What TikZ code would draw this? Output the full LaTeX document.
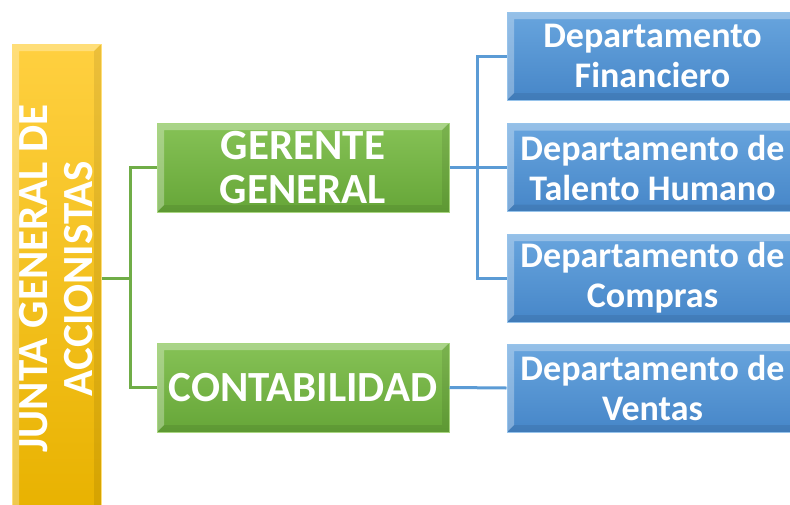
\documentclass[tikz,border=0pt]{standalone}
\usepackage{fontspec}
\setmainfont{Carlito}
\definecolor{amarilloA}{RGB}{255,208,64}
\definecolor{amarilloB}{RGB}{232,178,0}
\definecolor{amarilloL}{RGB}{255,222,120}
\definecolor{verdeA}{RGB}{134,194,86}
\definecolor{verdeB}{RGB}{102,166,56}
\definecolor{verdeL}{RGB}{168,214,128}
\definecolor{verdeC}{RGB}{112,173,71}
\definecolor{azulA}{RGB}{104,165,222}
\definecolor{azulB}{RGB}{70,134,200}
\definecolor{azulL}{RGB}{150,195,235}
\definecolor{azulC}{RGB}{91,155,213}
\tikzset{
    bisel/.style={path picture={
        \coordinate (nw) at (path picture bounding box.north west);
        \coordinate (ne) at (path picture bounding box.north east);
        \coordinate (sw) at (path picture bounding box.south west);
        \coordinate (se) at (path picture bounding box.south east);
        \fill[white,opacity=.3] (nw) -- (ne) -- ([shift={(-7pt,-7pt)}]ne)
            -- ([shift={(7pt,-7pt)}]nw) -- ([shift={(7pt,7pt)}]sw) -- (sw) -- cycle;
        \fill[black,opacity=.08] (se) -- (ne) -- ([shift={(-7pt,-7pt)}]ne)
            -- ([shift={(-7pt,7pt)}]se) -- ([shift={(7pt,7pt)}]sw) -- (sw) -- cycle;
    }},
    caja/.style={draw, line width=1pt, inner sep=0pt, align=center, text=white, bisel},
    junta/.style={caja, draw=amarilloL, top color=amarilloA, bottom color=amarilloB,
        minimum width=89pt, minimum height=469pt},
    gerencia/.style={caja, draw=verdeL, top color=verdeA, bottom color=verdeB,
        minimum width=292pt, minimum height=89pt,
        font=\bfseries\fontsize{43}{44}\selectfont},
    depto/.style={caja, draw=azulL, top color=azulA, bottom color=azulB,
        minimum width=291pt, minimum height=88pt,
        font=\bfseries\fontsize{36}{40}\selectfont},
    lineaverde/.style={draw=verdeC, line width=3pt},
    lineaazul/.style={draw=azulC, line width=3pt}
}
\begin{document}
\begin{tikzpicture}[x=1pt,y=-1pt]
    \useasboundingbox (0,0) rectangle (790,504);
    \node[junta] (junta) at (56.5,278.5) {};
    \node[rotate=90, align=center, text=white, font=\bfseries\fontsize{43}{45}\selectfont]
        (juntatexto) at (junta.center) {JUNTA GENERAL DE\\ACCIONISTAS};
    \node[gerencia] (gerente) at (303,167.5) {GERENTE\\GENERAL};
    \node[gerencia] (conta) at (303,387.5) {CONTABILIDAD};
    \node[depto] (financiero) at (652.5,56) {Departamento\\Financiero};
    \node[depto] (talento) at (652.5,167.5) {Departamento de\\Talento Humano};
    \node[depto] (compras) at (652.5,278) {Departamento de\\Compras};
    \node[depto] (ventas) at (652.5,388) {Departamento de\\Ventas};
    \coordinate (rama1) at (130,278.5);
    \coordinate (rama2) at (477,167.5);
    \draw[lineaverde] (junta.east) -- (rama1);
    \draw[lineaverde] (rama1) |- (gerente.west);
    \draw[lineaverde] (rama1) |- (conta.west);
    \draw[lineaazul] (gerente.east) -- (rama2);
    \draw[lineaazul] (rama2) |- (financiero.west);
    \draw[lineaazul] (rama2) -- (talento.west);
    \draw[lineaazul] (rama2) |- (compras.west);
    \draw[lineaazul] (conta.east) -- (ventas.west);
\end{tikzpicture}
\end{document}
